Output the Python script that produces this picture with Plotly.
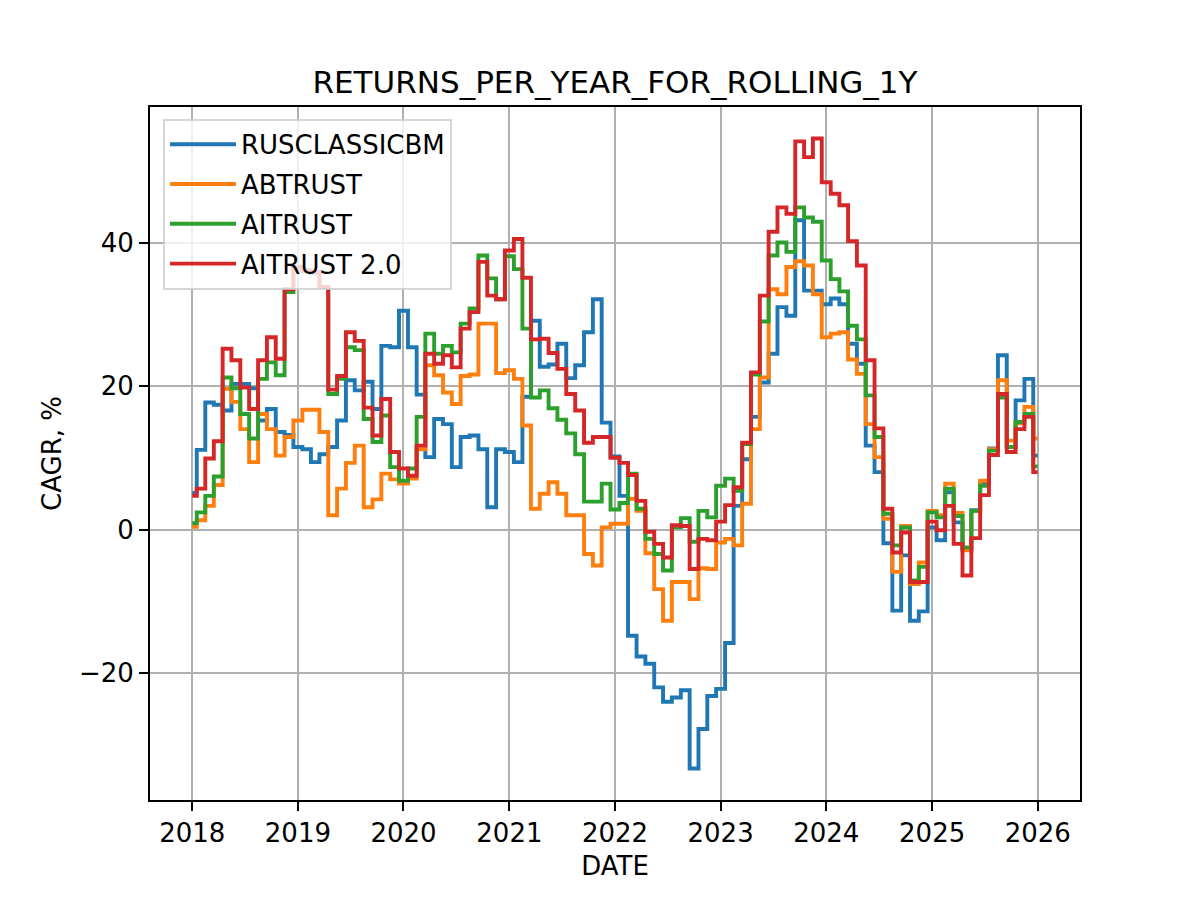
import pandas as pd
import plotly.graph_objects as go

# ---- data (monthly, 2018-01 .. 2026-01) ----
START_DATE = "2018-01-01"
N_MONTHS = 97
DATES = pd.date_range(START_DATE, periods=N_MONTHS, freq="MS")

RUSCLASSICBM = [
    5.1, 11.1, 17.7, 17.4, 16.6, 20.3, 20.3, 19.7, 15.2, 16.8, 13.6, 13.2,
    11.5, 11.2, 9.4, 10.5, 11.5, 15.2, 20.8, 19.4, 20.6, 16.8, 25.6, 25.4,
    30.5, 25.4, 18.8, 10.1, 15.4, 14.7, 8.7, 12.9, 13.1, 11.2, 3.1, 11.2,
    10.8, 9.4, 18.5, 29.1, 22.7, 23.0, 25.9, 21.1, 22.9, 27.5, 32.1, 14.9,
    10.2, 4.7, -14.8, -17.7, -18.7, -22.0, -24.0, -23.4, -22.4, -33.3, -27.8, -23.2,
    -22.2, -15.8, 3.3, 9.8, 15.7, 20.5, 24.5, 31.0, 29.8, 43.1, 33.3, 33.3,
    31.4, 32.2, 31.4, 25.9, 23.1, 11.7, 8.0, -1.9, -11.3, -3.6, -12.7, -11.4,
    0.3, -1.5, 5.2, 1.0, -2.7, 2.7, 6.6, 11.3, 24.3, 11.5, 18.0, 21.0,
    10.3,
]
ABTRUST = [
    0.4, 1.3, 3.3, 6.2, 19.6, 17.8, 14.0, 9.4, 16.1, 14.0, 10.3, 12.9,
    15.2, 16.7, 16.7, 13.6, 2.0, 5.7, 9.3, 11.7, 3.1, 4.2, 7.8, 7.0,
    6.4, 7.1, 11.2, 22.9, 21.5, 19.1, 17.5, 21.4, 21.6, 28.7, 28.7, 21.8,
    22.2, 21.0, 14.5, 2.9, 5.0, 6.6, 5.0, 2.0, 2.0, -3.4, -5.0, 0.3,
    0.8, 0.8, 4.3, 2.6, -3.3, -8.3, -12.7, -7.3, -7.3, -9.7, -5.4, -5.5,
    -1.8, -1.3, -2.2, 3.6, 14.0, 21.2, 33.5, 32.8, 36.6, 37.4, 36.8, 32.8,
    26.8, 27.3, 27.5, 23.7, 21.7, 14.7, 10.1, 1.5, -5.9, 0.5, -7.6, -4.6,
    2.6, 2.0, 6.4, 2.3, -2.9, 2.6, 6.8, 11.2, 20.8, 12.4, 14.8, 17.1,
    12.7,
]
AITRUST = [
    0.9, 2.4, 4.7, 7.4, 21.2, 19.7, 16.1, 12.7, 21.0, 23.3, 21.5, 33.1,
    36.3, 36.0, 35.7, 33.8, 18.9, 21.0, 25.4, 25.0, 15.4, 12.2, 15.9, 8.7,
    6.8, 8.5, 15.7, 27.3, 24.5, 25.6, 24.7, 28.7, 30.8, 38.2, 35.0, 32.1,
    38.1, 36.3, 28.0, 18.4, 19.4, 16.9, 15.3, 13.4, 10.5, 3.9, 3.9, 6.4,
    2.8, 3.7, 7.8, 2.9, -1.3, -3.4, -5.7, 0.3, 1.6, -1.7, 2.6, 1.7,
    6.1, 7.1, 5.4, 11.9, 21.6, 29.0, 38.2, 40.0, 38.7, 44.9, 43.5, 42.9,
    37.5, 34.9, 33.2, 28.4, 26.5, 18.7, 12.9, 2.2, -2.2, 0.3, -7.1, -5.2,
    2.4, 1.7, 5.7, 1.9, -2.5, 2.6, 6.1, 11.0, 18.4, 11.5, 15.0, 16.1,
    8.8,
]
AITRUST_2_0 = [
    4.7, 5.7, 9.9, 12.3, 25.2, 23.6, 19.8, 16.8, 23.6, 26.8, 23.8, 33.5,
    36.6, 36.1, 35.9, 33.8, 19.5, 21.4, 27.5, 26.3, 17.0, 13.1, 18.2, 10.8,
    8.5, 7.5, 11.7, 24.5, 23.1, 24.3, 22.6, 28.0, 30.3, 37.3, 32.6, 32.1,
    38.9, 40.5, 35.1, 26.5, 26.6, 24.6, 22.4, 18.9, 16.6, 12.1, 12.9, 12.9,
    10.0, 9.3, 7.6, 4.0, -0.3, -2.0, -3.9, 0.6, 0.5, -5.5, -1.3, -1.5,
    1.1, 3.4, 5.9, 12.1, 21.9, 32.6, 41.5, 44.9, 44.0, 54.1, 51.9, 54.5,
    48.4, 46.8, 45.2, 40.2, 36.8, 23.6, 14.1, 2.9, -3.2, -0.4, -7.3, -7.3,
    1.1, -0.1, 3.3, -2.0, -6.4, -1.2, 4.8, 10.4, 18.9, 10.8, 14.0, 15.7,
    8.0,
]

SERIES_NAMES = ["RUSCLASSICBM", "ABTRUST", "AITRUST", "AITRUST 2.0"]
SERIES_VALUES = [RUSCLASSICBM, ABTRUST, AITRUST, AITRUST_2_0]
COLORS = ["#1f77b4", "#ff7f0e", "#2ca02c", "#d62728"]

TICK_YEARS = ["2018", "2019", "2020", "2021", "2022", "2023", "2024", "2025", "2026"]
Y_TICKS = [-20, 0, 20, 40]

TITLE = "RETURNS_PER_YEAR_FOR_ROLLING_1Y"
X_LABEL = "DATE"
Y_LABEL = "CAGR, %"

# ---- figure ----
FONT = "DejaVu Sans"
fig = go.Figure()
for i, (name, vals, col) in enumerate(zip(SERIES_NAMES, SERIES_VALUES, COLORS)):
    fig.add_trace(go.Scatter(
        x=DATES, y=vals, name=name, mode="lines", legendgroup=f"g{i}",
        line=dict(color=col, width=3.9, shape="hvh"),
    ))

# matplotlib-like 5% margins
x0, x1 = DATES[0], DATES[-1]
span = x1 - x0
xr = [x0 - span * 0.05, x1 + span * 0.05]
all_vals = [v for s in SERIES_VALUES for v in s]
ymin, ymax = min(all_vals), max(all_vals)
yspan = ymax - ymin
yr = [ymin - 0.05 * yspan, ymax + 0.05 * yspan]

axis_common = dict(
    showline=True, linecolor="black", linewidth=2, mirror=True,
    showgrid=True, gridcolor="#b0b0b0", gridwidth=2,
    ticks="outside", ticklen=9, tickwidth=2, tickcolor="black",
    tickfont=dict(family=FONT, size=26, color="black"),
    zeroline=False,
)

# page body has an 8px default margin -> compensate in the plot margins
fig.update_layout(
    width=1200, height=900,
    margin=dict(l=142, r=128, t=99, b=108),
    paper_bgcolor="white", plot_bgcolor="white",
    font=dict(family=FONT, color="black"),
    title=dict(text=TITLE, x=0.5, xref="paper", xanchor="center",
               y=1.0, yref="paper", yanchor="bottom", pad=dict(b=14),
               font=dict(family=FONT, size=31, color="black")),
    xaxis=dict(range=xr, tickvals=[pd.Timestamp(y + "-01-01") for y in TICK_YEARS],
               ticktext=TICK_YEARS,
               title=dict(text=X_LABEL, font=dict(family=FONT, size=26), standoff=10),
               **axis_common),
    yaxis=dict(range=yr, tickvals=Y_TICKS,
               title=dict(text=Y_LABEL, font=dict(family=FONT, size=26), standoff=10),
               **axis_common),
    legend=dict(x=0.014, y=0.983, xanchor="left", yanchor="top",
                bgcolor="rgba(255,255,255,0.8)", bordercolor="rgba(204,204,204,0.8)",
                borderwidth=2, font=dict(family=FONT, size=26, color="black"),
                itemwidth=66, tracegroupgap=3, traceorder="grouped"),
    showlegend=True,
)

fig.write_html("out.html")
